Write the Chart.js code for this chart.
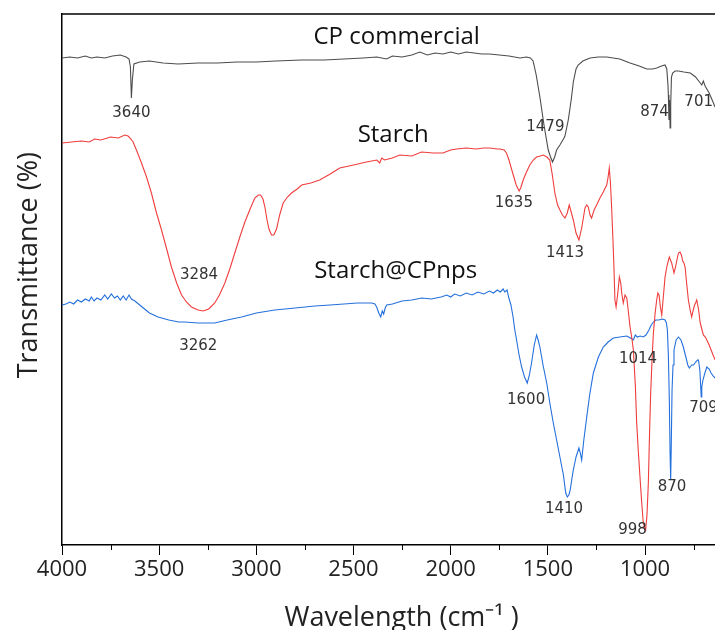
<!DOCTYPE html>
<html><head><meta charset="utf-8">
<script src="https://cdn.jsdelivr.net/npm/chart.js@4/dist/chart.umd.min.js"></script>
<style>html,body{margin:0;padding:0;background:#fff}canvas{display:block}</style>
</head><body>
<canvas id="c" width="715" height="630"></canvas>
<script>
// ---- data (wavenumber in cm-1, transmittance in arbitrary units) ----
const cpWavenumber = [4000,3960,3920,3880,3850,3820,3780,3740,3700,3670,3655,3648,3643,3638,3630,3600,3550,3480,3403,3300,3200,3100,3000,2900,2767,2650,2550,2450,2380,2330,2300,2250,2200,2159,2120,2080,2040,2000,1960,1920,1880,1840,1800,1750,1700,1644,1610,1590,1576,1560,1541,1520,1498,1486,1476,1465,1455,1438,1420,1412,1395,1380,1369,1355,1344,1320,1283,1240,1197,1130,1077,1030,991,960,940,915,897,888,882,880,877,874,871,868,864,858,845,828,800,767,740,720,708,700,691,670,648,640];
const cpValue = [487,488,487,489,487,488,487,489,490,488,486,478,447,465,481,483,484,482,481,482,482,483,483,484,485,485,486,487,488,486,489,488,490,493,490,492,491,493,491,493,492,491,491,490,489,487,488,487,484,470,448,420,395,388,383,388,395,400,406,409,425,445,463,476,480,484,487,488,488,486,482,479,476,476,477,479,480,476,460,450,425,445,417,440,468,472,474,474,473,472,468,463,460,464,459,452,442,438];

const starchWavenumber = [4000,3950,3900,3860,3832,3800,3750,3710,3677,3660,3645,3634,3615,3591,3565,3540,3515,3488,3460,3437,3410,3385,3360,3334,3300,3274,3245,3214,3190,3162,3135,3111,3085,3059,3030,3008,2990,2978,2966,2956,2945,2935,2922,2910,2896,2880,2862,2840,2819,2790,2767,2720,2674,2620,2571,2500,2434,2380,2365,2355,2340,2300,2262,2200,2150,2091,2040,2000,1970,1920,1870,1830,1800,1760,1747,1725,1713,1700,1690,1678,1663,1648,1640,1625,1610,1593,1575,1558,1540,1524,1505,1490,1477,1464,1450,1438,1425,1412,1400,1390,1380,1369,1355,1340,1325,1309,1300,1292,1283,1275,1262,1249,1232,1215,1205,1197,1190,1184,1178,1172,1165,1160,1155,1149,1140,1132,1125,1120,1112,1103,1094,1085,1077,1068,1060,1050,1043,1035,1026,1018,1009,1003,997,990,983,977,971,964,957,948,940,934,928,921,914,905,897,886,875,863,851,843,835,828,820,813,806,800,794,786,777,768,760,752,745,738,734,725,716,708,700,690,682,670,660,650,639];
const starchValue = [402,403,404,403,406,405,408,407,410,409,406,403,394,382,368,352,333,315,295,278,262,250,243,238,235,234,236,242,250,262,277,292,308,323,337,347,350,350,346,338,325,316,310,310,316,330,342,348,352,356,360,362,365,371,377,380,383,385,382,387,385,387,390,389,393,392,392,395,396,397,396,397,397,396,396,395,392,385,378,370,360,354,357,366,373,380,385,388,389,390,388,385,370,352,340,335,330,327,332,340,333,325,312,305,318,337,340,338,330,327,335,340,347,353,357,360,368,377,362,338,305,278,245,238,252,268,262,252,242,250,247,232,218,207,195,160,122,95,68,45,22,18,15,30,62,110,152,185,212,232,245,252,250,238,230,250,268,280,288,282,272,278,286,292,293,290,284,282,278,262,245,235,228,235,240,243,245,236,222,216,210,208,205,200,195,190,185];

const cpnpsWavenumber = [4000,3980,3960,3940,3920,3900,3880,3860,3849,3835,3820,3800,3780,3765,3746,3730,3715,3700,3685,3670,3655,3643,3625,3600,3575,3550,3506,3450,3400,3368,3300,3250,3214,3150,3076,3000,2905,2800,2699,2620,2550,2480,2406,2390,2381,2370,2360,2352,2345,2337,2329,2300,2250,2200,2149,2100,2050,2020,2000,1980,1950,1920,1890,1860,1830,1800,1780,1760,1745,1730,1722,1710,1702,1690,1679,1670,1661,1648,1635,1620,1606,1595,1584,1570,1558,1550,1541,1525,1506,1490,1472,1455,1438,1420,1408,1400,1392,1385,1375,1369,1355,1340,1333,1326,1315,1300,1285,1266,1240,1215,1190,1163,1130,1094,1075,1060,1050,1040,1025,1009,995,980,968,957,945,930,910,897,890,885,880,875,871,868,865,861,856,851,840,828,815,803,790,780,772,760,750,740,730,725,718,714,711,708,702,692,682,670,660,650,639];
const cpnpsValue = [240,241,243,241,245,243,246,244,248,244,247,245,250,246,251,247,249,245,249,245,250,246,244,240,236,232,228,225,223,223,222,222,222,225,228,232,235,237,239,240,241,242,242,241,238,232,228,234,231,237,240,241,244,245,247,246,248,250,248,251,249,252,250,253,251,254,252,255,253,256,253,255,248,240,228,215,205,190,178,168,162,170,182,200,210,205,198,180,162,142,122,105,88,70,52,48,50,55,68,75,88,97,92,85,105,128,150,172,188,198,203,207,208,209,207,205,210,208,209,208,210,215,220,223,225,225,226,225,222,215,190,145,90,65,100,155,180,195,205,208,205,198,188,180,177,180,180,183,185,185,175,160,148,158,165,172,178,176,172,169,167];

const xMajorTicks = [4000,3500,3000,2500,2000,1500,1000];
const xMinorTicks = [3750,3250,2750,2250,1750,1250,750];

const xTitle = 'Wavelength (cm\u207B\u00B9 )';
const yTitle = 'Transmittance (%)';

const seriesNames = ['CP commercial','Starch','Starch@CPnps'];
const seriesNameWavenumber = [2278,2296,2283];
const seriesNameValue = [501,403,267];

const peakText = ['3640','1479','874','701','1635','1413','3284','3262','1600','1410','998','870','1014','709'];
const peakTextWavenumber = [3643,1513,951,724,1675,1412,3295,3299,1612,1417,1064,861,1036,699];
const peakTextValue = [432,418,433,443,342,292,270,199,145,36,15,58,186,137];

const zip = (xs, ys) => xs.map((x, i) => ({x, y: ys[i]}));

const frame = {
  id: 'frame',
  afterDraw(chart) {
    const {ctx, chartArea: a, scales: {x, y}} = chart;
    ctx.save();
    ctx.strokeStyle = '#000';
    ctx.lineWidth = 1.5;
    ctx.beginPath();
    ctx.moveTo(a.left, a.top);
    ctx.lineTo(a.right, a.top);
    ctx.stroke();
    ctx.lineWidth = 1;
    xMinorTicks.forEach(v => {
      const px = Math.round(x.getPixelForValue(v)) + 0.5;
      ctx.beginPath();
      ctx.moveTo(px, a.bottom);
      ctx.lineTo(px, a.bottom + 5);
      ctx.stroke();
    });
    // axis titles
    ctx.fillStyle = '#222';
    ctx.font = '27px "Open Sans"';
    ctx.textAlign = 'center';
    ctx.textBaseline = 'alphabetic';
    ctx.fillText(xTitle, a.left + (a.right - a.left) * 0.52, 626);
    ctx.save();
    ctx.translate(37, a.top + (a.bottom - a.top) * 0.473);
    ctx.rotate(-Math.PI / 2);
    ctx.fillText(yTitle, 0, 0);
    ctx.restore();
    // series names
    ctx.fillStyle = '#111';
    ctx.font = '24px "Open Sans"';
    seriesNames.forEach((t, i) => {
      ctx.fillText(t, x.getPixelForValue(seriesNameWavenumber[i]), y.getPixelForValue(seriesNameValue[i]));
    });
    // peak labels
    ctx.fillStyle = '#333';
    ctx.font = '15px "DejaVu Sans"';
    ctx.textBaseline = 'middle';
    peakText.forEach((t, i) => {
      ctx.fillText(t, x.getPixelForValue(peakTextWavenumber[i]), y.getPixelForValue(peakTextValue[i]));
    });
    ctx.restore();
  }
};

new Chart(document.getElementById('c'), {
  type: 'line',
  data: {
    datasets: [
      {label: 'CP commercial', data: zip(cpWavenumber, cpValue), borderColor: '#4d4d4d', borderWidth: 1.1},
      {label: 'Starch', data: zip(starchWavenumber, starchValue), borderColor: '#f03c3c', borderWidth: 1.1},
      {label: 'Starch@CPnps', data: zip(cpnpsWavenumber, cpnpsValue), borderColor: '#2470dc', borderWidth: 1.1}
    ]
  },
  options: {
    responsive: false,
    animation: false,
    devicePixelRatio: 1,
    elements: {point: {radius: 0}, line: {tension: 0}},
    layout: {padding: {top: 14, left: 0, right: 0, bottom: 0}},
    plugins: {legend: {display: false}, tooltip: {enabled: false}},
    scales: {
      x: {
        type: 'linear', reverse: true, min: 640, max: 4000,
        afterBuildTicks: s => { s.ticks = xMajorTicks.map(v => ({value: v})); },
        afterFit: s => { s.height = 85; },
        grid: {display: true, drawOnChartArea: false, drawTicks: true, tickLength: 10, color: '#000', tickWidth: 1},
        border: {display: true, color: '#000', width: 1.5},
        ticks: {font: {family: 'Open Sans', size: 22}, color: '#222', padding: 2, maxRotation: 0, autoSkip: false, callback: v => String(v)},
        title: {display: false}
      },
      y: {
        min: 0, max: 531,
        ticks: {display: false},
        grid: {display: false},
        border: {display: true, color: '#000', width: 1.5},
        afterFit: s => { s.width = 62; },
        title: {display: false}
      }
    }
  },
  plugins: [frame]
});
</script>
</body></html>
